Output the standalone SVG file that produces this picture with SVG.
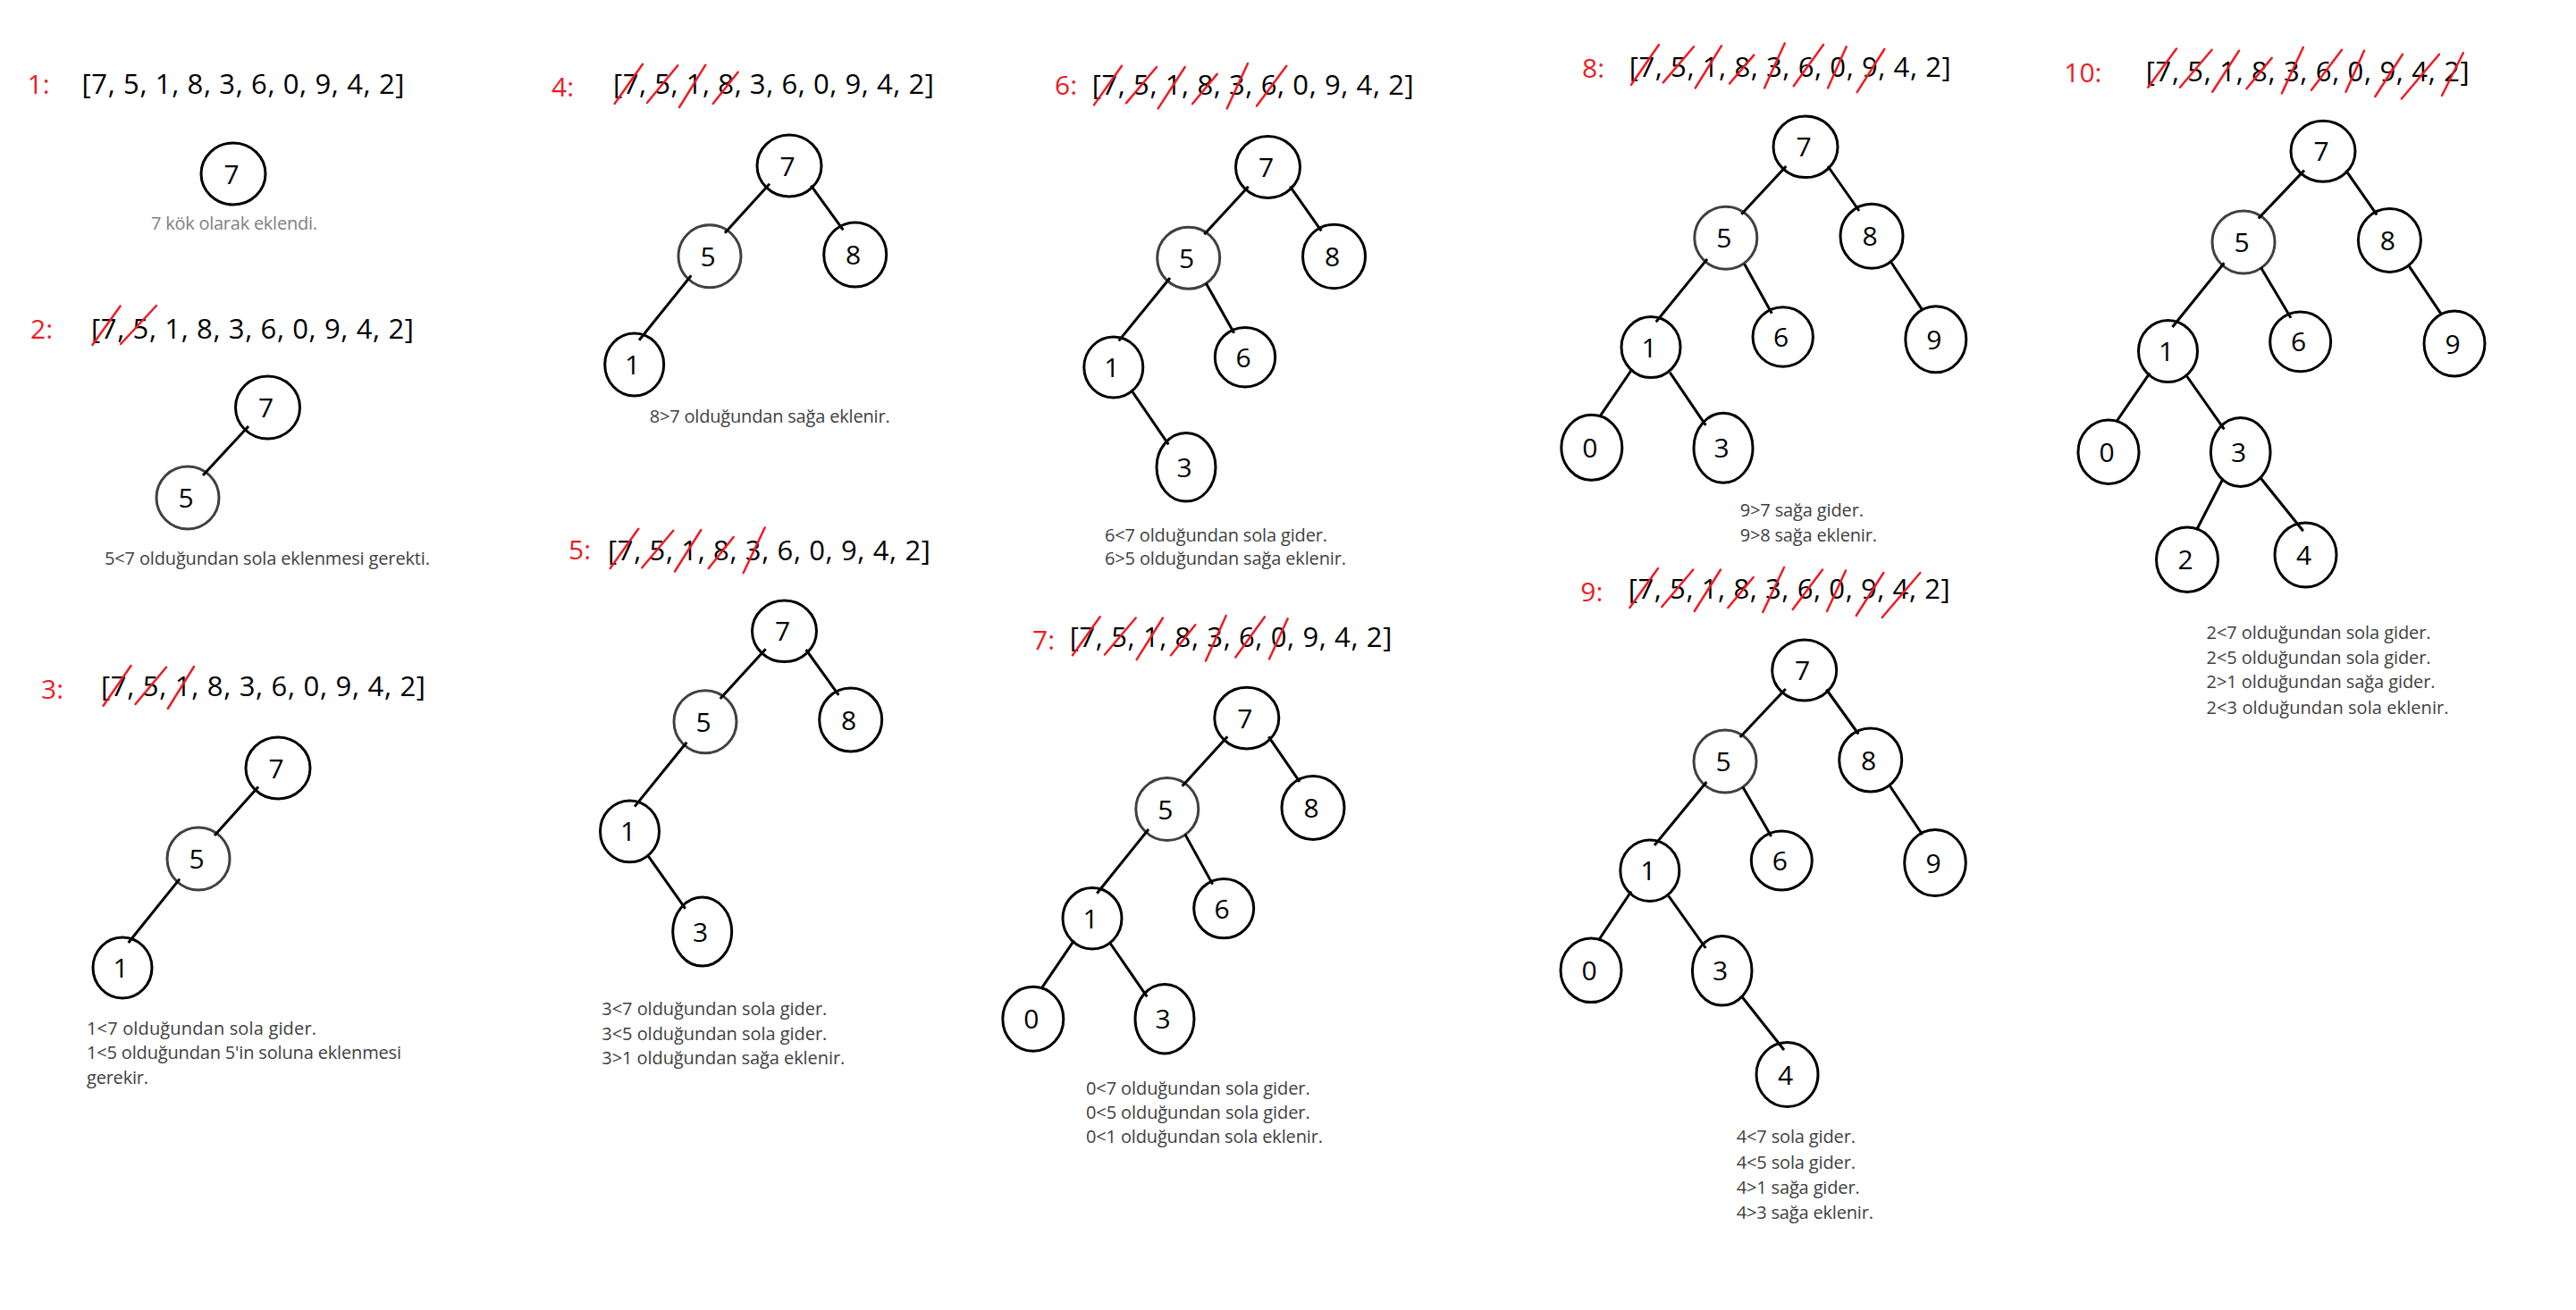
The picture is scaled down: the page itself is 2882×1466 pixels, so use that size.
<svg xmlns="http://www.w3.org/2000/svg" width="2882" height="1466" viewBox="0 0 2882 1466">
<style>
.lbl{font-family:"Open Sans",sans-serif;font-size:30px;fill:#ED1C24}
.lst{font-family:"Open Sans",sans-serif;font-size:31px;fill:#000}
.x line{stroke:#ED1C24;stroke-width:2.5;stroke-linecap:round}
.nd ellipse{fill:#fff;stroke:#000;stroke-width:3}
.nd.g ellipse{stroke:#404040}
.nd text{font-family:"Open Sans",sans-serif;font-size:30px;text-anchor:middle;fill:#000}
.cap{font-family:"Open Sans",sans-serif;font-size:20px;fill:#404040}
.cap.lt{fill:#808080}
#connectors line{stroke:#000;stroke-width:3}
</style>
<rect width="2882" height="1466" fill="#fff"/>

<!-- Step 1 -->
<g id="step1">
<text class="lbl" x="30.5" y="105">1:</text>
<text class="lst" x="91.5" y="105" textLength="361" lengthAdjust="spacing">[7, 5, 1, 8, 3, 6, 0, 9, 4, 2]</text>
<text class="cap lt" x="169" y="257" textLength="186" lengthAdjust="spacing">7 kök olarak eklendi.</text>
</g>
<g id="s1-n7" class="nd"><ellipse cx="261" cy="194.5" rx="36" ry="34.5"/><text x="259" y="205.5">7</text></g>

<!-- Step 2 -->
<g id="step2">
<text class="lbl" x="34" y="379">2:</text>
<text class="lst" x="102" y="379" textLength="361" lengthAdjust="spacing">[7, 5, 1, 8, 3, 6, 0, 9, 4, 2]</text>
<g class="x"><line x1="103.4" y1="386" x2="134.6" y2="342.5"/><line x1="135" y1="385" x2="175" y2="342"/></g>
<text class="cap" x="117" y="631.5" textLength="364" lengthAdjust="spacing">5&lt;7 olduğundan sola eklenmesi gerekti.</text>
</g>
<g id="s2-n7" class="nd"><ellipse cx="299.5" cy="456" rx="36" ry="35"/><text x="297.5" y="467">7</text></g>
<g id="s2-n5" class="nd g"><ellipse cx="210" cy="557" rx="35" ry="35"/><text x="208" y="568">5</text></g>

<!-- Step 3 -->
<g id="step3">
<text class="lbl" x="46" y="782">3:</text>
<text class="lst" x="113" y="779" textLength="363" lengthAdjust="spacing">[7, 5, 1, 8, 3, 6, 0, 9, 4, 2]</text>
<g class="x"><line x1="115.6" y1="789.8" x2="146.5" y2="745"/><line x1="151.5" y1="788" x2="186" y2="746.7"/><line x1="187.8" y1="793" x2="217" y2="746"/></g>
<text class="cap" x="97" y="1157.7" textLength="257" lengthAdjust="spacing">1&lt;7 olduğundan  sola gider.</text>
<text class="cap" x="97" y="1185" textLength="352" lengthAdjust="spacing">1&lt;5 olduğundan 5'in soluna eklenmesi</text>
<text class="cap" x="97" y="1213" textLength="69" lengthAdjust="spacing">gerekir.</text>
</g>
<g id="s3-n7" class="nd"><ellipse cx="311" cy="859.5" rx="36" ry="34.5"/><text x="309" y="870.5">7</text></g>
<g id="s3-n5" class="nd g"><ellipse cx="222" cy="961" rx="35" ry="35"/><text x="220" y="972">5</text></g>
<g id="s3-n1" class="nd"><ellipse cx="137" cy="1083" rx="33" ry="34"/><text x="135" y="1094">1</text></g>

<!-- Step 4 -->
<g id="step4">
<text class="lbl" x="617" y="107.7">4:</text>
<text class="lst" x="686" y="105" textLength="359" lengthAdjust="spacing">[7, 5, 1, 8, 3, 6, 0, 9, 4, 2]</text>
<g class="x"><line x1="687.7" y1="116" x2="719" y2="71.7"/><line x1="724" y1="115" x2="758.3" y2="73.3"/><line x1="760" y1="120" x2="789.3" y2="72.7"/><line x1="797.7" y1="116" x2="825.7" y2="80.7"/></g>
<text class="cap" x="726.7" y="473.3" textLength="269" lengthAdjust="spacing">8&gt;7 olduğundan sağa eklenir.</text>
</g>
<g id="s4-n7" class="nd"><ellipse cx="883" cy="185.5" rx="36" ry="34.5"/><text x="881" y="196.5">7</text></g>
<g id="s4-n5" class="nd g"><ellipse cx="794" cy="286.7" rx="35" ry="35"/><text x="792" y="297.7">5</text></g>
<g id="s4-n8" class="nd"><ellipse cx="956.7" cy="285" rx="35" ry="36"/><text x="954.7" y="296">8</text></g>
<g id="s4-n1" class="nd"><ellipse cx="709.7" cy="408" rx="33" ry="35"/><text x="707.7" y="419">1</text></g>

<!-- Step 5 -->
<g id="step5">
<text class="lbl" x="636" y="625.6">5:</text>
<text class="lst" x="680" y="627" textLength="361" lengthAdjust="spacing">[7, 5, 1, 8, 3, 6, 0, 9, 4, 2]</text>
<g class="x"><line x1="682.7" y1="636" x2="714.3" y2="591.7"/><line x1="718.3" y1="635.3" x2="753.3" y2="593.8"/><line x1="755" y1="639.5" x2="784.3" y2="593"/><line x1="792.7" y1="636" x2="820.7" y2="601"/><line x1="831.7" y1="641" x2="855.7" y2="590.5"/></g>
<text class="cap" x="673.3" y="1136" textLength="252" lengthAdjust="spacing">3&lt;7 olduğundan sola gider.</text>
<text class="cap" x="673.3" y="1164" textLength="252" lengthAdjust="spacing">3&lt;5 olduğundan sola gider.</text>
<text class="cap" x="673.3" y="1191" textLength="272" lengthAdjust="spacing">3&gt;1 olduğundan sağa eklenir.</text>
</g>
<g id="s5-n7" class="nd"><ellipse cx="877.5" cy="706.3" rx="36" ry="34.3"/><text x="875.5" y="717.3">7</text></g>
<g id="s5-n5" class="nd g"><ellipse cx="789" cy="807.7" rx="35" ry="35"/><text x="787" y="818.7">5</text></g>
<g id="s5-n8" class="nd"><ellipse cx="951.7" cy="805.5" rx="35" ry="35.5"/><text x="949.7" y="816.5">8</text></g>
<g id="s5-n1" class="nd"><ellipse cx="704.5" cy="930.4" rx="33" ry="34.4"/><text x="702.5" y="941.4">1</text></g>
<g id="s5-n3" class="nd"><ellipse cx="785.7" cy="1042.6" rx="33" ry="38.5"/><text x="783.7" y="1053.6">3</text></g>

<!-- Step 6 -->
<g id="step6">
<text class="lbl" x="1180" y="105.5">6:</text>
<text class="lst" x="1221.7" y="105.5" textLength="360" lengthAdjust="spacing">[7, 5, 1, 8, 3, 6, 0, 9, 4, 2]</text>
<g class="x"><line x1="1224" y1="117.4" x2="1255" y2="73.7"/><line x1="1260" y1="115.4" x2="1294" y2="75"/><line x1="1295.7" y1="121.4" x2="1325.7" y2="75"/><line x1="1334" y1="116.2" x2="1361.7" y2="82.9"/><line x1="1372.7" y1="121.4" x2="1396" y2="71"/><line x1="1406" y1="118.6" x2="1439.3" y2="73.7"/></g>
<text class="cap" x="1236" y="605.7" textLength="249" lengthAdjust="spacing">6&lt;7 olduğundan sola gider.</text>
<text class="cap" x="1236" y="632.3" textLength="270" lengthAdjust="spacing">6&gt;5 olduğundan sağa eklenir.</text>
</g>
<g id="s6-n7" class="nd"><ellipse cx="1418.5" cy="187" rx="36" ry="34.5"/><text x="1416.5" y="198">7</text></g>
<g id="s6-n5" class="nd g"><ellipse cx="1329.7" cy="288.7" rx="35" ry="34.5"/><text x="1327.7" y="299.7">5</text></g>
<g id="s6-n8" class="nd"><ellipse cx="1492.5" cy="287" rx="35" ry="35.7"/><text x="1490.5" y="298">8</text></g>
<g id="s6-n1" class="nd"><ellipse cx="1245.8" cy="411" rx="33" ry="34"/><text x="1243.8" y="422">1</text></g>
<g id="s6-n6" class="nd"><ellipse cx="1393" cy="399.7" rx="33.7" ry="33.3"/><text x="1391" y="410.7">6</text></g>
<g id="s6-n3" class="nd"><ellipse cx="1327" cy="522.8" rx="33" ry="38.3"/><text x="1325" y="533.8">3</text></g>

<!-- Step 7 -->
<g id="step7">
<text class="lbl" x="1155" y="727">7:</text>
<text class="lst" x="1196.7" y="724.3" textLength="360.6" lengthAdjust="spacing">[7, 5, 1, 8, 3, 6, 0, 9, 4, 2]</text>
<g class="x"><line x1="1200" y1="733.3" x2="1230.7" y2="690.3"/><line x1="1236" y1="732.5" x2="1270.7" y2="691.5"/><line x1="1271.7" y1="738.2" x2="1301" y2="691.5"/><line x1="1310" y1="733.3" x2="1337.3" y2="699.3"/><line x1="1349" y1="739.5" x2="1371.7" y2="689"/><line x1="1382.3" y1="735.4" x2="1415" y2="690.3"/><line x1="1420" y1="737.4" x2="1440.7" y2="692.3"/></g>
<text class="cap" x="1215" y="1224.5" textLength="250.7" lengthAdjust="spacing">0&lt;7 olduğundan sola gider.</text>
<text class="cap" x="1215" y="1252" textLength="250.7" lengthAdjust="spacing">0&lt;5 olduğundan sola gider.</text>
<text class="cap" x="1215" y="1279.4" textLength="265" lengthAdjust="spacing">0&lt;1 olduğundan sola eklenir.</text>
</g>
<g id="s7-n7" class="nd"><ellipse cx="1394.8" cy="803.6" rx="36" ry="34.3"/><text x="1392.8" y="814.6">7</text></g>
<g id="s7-n5" class="nd g"><ellipse cx="1305.8" cy="905.5" rx="35" ry="35"/><text x="1303.8" y="916.5">5</text></g>
<g id="s7-n8" class="nd"><ellipse cx="1469" cy="904" rx="35" ry="35.5"/><text x="1467" y="915">8</text></g>
<g id="s7-n1" class="nd"><ellipse cx="1222" cy="1027.8" rx="33" ry="34.2"/><text x="1220" y="1038.8">1</text></g>
<g id="s7-n6" class="nd"><ellipse cx="1369.2" cy="1016.6" rx="33.5" ry="33.2"/><text x="1367.2" y="1027.6">6</text></g>
<g id="s7-n0" class="nd"><ellipse cx="1155.8" cy="1140.2" rx="34" ry="36"/><text x="1153.8" y="1151.2">0</text></g>
<g id="s7-n3" class="nd"><ellipse cx="1303" cy="1140.2" rx="33" ry="38.7"/><text x="1301" y="1151.2">3</text></g>

<!-- Step 8 -->
<g id="step8">
<text class="lbl" x="1770" y="87">8:</text>
<text class="lst" x="1822.7" y="85.8" textLength="360" lengthAdjust="spacing">[7, 5, 1, 8, 3, 6, 0, 9, 4, 2]</text>
<g class="x"><line x1="1825" y1="94.7" x2="1856" y2="50"/><line x1="1860.7" y1="92.4" x2="1895" y2="52.3"/><line x1="1896.7" y1="98.5" x2="1926" y2="51.2"/><line x1="1935" y1="93.5" x2="1962.3" y2="61.6"/><line x1="1974" y1="98.5" x2="1996.7" y2="48.5"/><line x1="2006.7" y1="96.2" x2="2040" y2="50"/><line x1="2045" y1="98.5" x2="2065.7" y2="52.3"/><line x1="2077.7" y1="103.2" x2="2108.3" y2="55"/></g>
<text class="cap" x="1946.7" y="577.5" textLength="138.3" lengthAdjust="spacing">9&gt;7 sağa gider.</text>
<text class="cap" x="1946.7" y="605.6" textLength="153.3" lengthAdjust="spacing">9&gt;8 sağa eklenir.</text>
</g>
<g id="s8-n7" class="nd"><ellipse cx="2020" cy="164.3" rx="36" ry="34.3"/><text x="2018" y="175.3">7</text></g>
<g id="s8-n5" class="nd g"><ellipse cx="1930.8" cy="266.2" rx="35" ry="35"/><text x="1928.8" y="277.2">5</text></g>
<g id="s8-n8" class="nd"><ellipse cx="2094" cy="264.3" rx="35" ry="36"/><text x="2092" y="275.3">8</text></g>
<g id="s8-n1" class="nd"><ellipse cx="1847" cy="388.6" rx="33" ry="34"/><text x="1845" y="399.6">1</text></g>
<g id="s8-n6" class="nd"><ellipse cx="1994.7" cy="377" rx="33.7" ry="33.3"/><text x="1992.7" y="388">6</text></g>
<g id="s8-n9" class="nd"><ellipse cx="2165.8" cy="379.8" rx="34" ry="37"/><text x="2163.8" y="390.8">9</text></g>
<g id="s8-n0" class="nd"><ellipse cx="1780.8" cy="500.8" rx="34" ry="36.5"/><text x="1778.8" y="511.8">0</text></g>
<g id="s8-n3" class="nd"><ellipse cx="1928" cy="501.3" rx="33" ry="39"/><text x="1926" y="512.3">3</text></g>

<!-- Step 9 -->
<g id="step9">
<text class="lbl" x="1768.3" y="672.5">9:</text>
<text class="lst" x="1821.7" y="670" textLength="360" lengthAdjust="spacing">[7, 5, 1, 8, 3, 6, 0, 9, 4, 2]</text>
<g class="x"><line x1="1823.3" y1="680" x2="1855" y2="636"/><line x1="1859.3" y1="679" x2="1894.3" y2="637.5"/><line x1="1895.7" y1="684" x2="1925" y2="637.5"/><line x1="1933.3" y1="680" x2="1961.7" y2="646"/><line x1="1972.3" y1="685" x2="1996" y2="635"/><line x1="2005.7" y1="682" x2="2039" y2="637.5"/><line x1="2044" y1="684" x2="2065" y2="638.5"/><line x1="2076.7" y1="689" x2="2107.3" y2="641"/><line x1="2105.7" y1="691" x2="2148.3" y2="641"/></g>
<text class="cap" x="1942.7" y="1279" textLength="133.3" lengthAdjust="spacing">4&lt;7 sola gider.</text>
<text class="cap" x="1942.7" y="1307.5" textLength="133.3" lengthAdjust="spacing">4&lt;5 sola gider.</text>
<text class="cap" x="1942.7" y="1336" textLength="138" lengthAdjust="spacing">4&gt;1 sağa gider.</text>
<text class="cap" x="1942.7" y="1364" textLength="153.3" lengthAdjust="spacing">4&gt;3 sağa eklenir.</text>
</g>
<g id="s9-n7" class="nd"><ellipse cx="2018.7" cy="750" rx="36" ry="34"/><text x="2016.7" y="761">7</text></g>
<g id="s9-n5" class="nd g"><ellipse cx="1930" cy="852" rx="35" ry="35"/><text x="1928" y="863">5</text></g>
<g id="s9-n8" class="nd"><ellipse cx="2092.7" cy="850.5" rx="35" ry="35.5"/><text x="2090.7" y="861.5">8</text></g>
<g id="s9-n1" class="nd"><ellipse cx="1845.8" cy="974.3" rx="33" ry="34.3"/><text x="1843.8" y="985.3">1</text></g>
<g id="s9-n6" class="nd"><ellipse cx="1993.3" cy="963" rx="34" ry="33"/><text x="1991.3" y="974">6</text></g>
<g id="s9-n9" class="nd"><ellipse cx="2165" cy="965.5" rx="34.3" ry="37"/><text x="2163" y="976.5">9</text></g>
<g id="s9-n0" class="nd"><ellipse cx="1780" cy="1085.8" rx="34" ry="35.8"/><text x="1778" y="1096.8">0</text></g>
<g id="s9-n3" class="nd"><ellipse cx="1926.7" cy="1086.3" rx="33.3" ry="38.8"/><text x="1924.7" y="1097.3">3</text></g>
<g id="s9-n4" class="nd"><ellipse cx="1999.5" cy="1202.5" rx="34.5" ry="36"/><text x="1997.5" y="1213.5">4</text></g>

<!-- Step 10 -->
<g id="step10">
<text class="lbl" x="2309.3" y="91.6">10:</text>
<text class="lst" x="2400.7" y="90.5" textLength="362" lengthAdjust="spacing">[7, 5, 1, 8, 3, 6, 0, 9, 4, 2]</text>
<g class="x"><line x1="2403.3" y1="97.7" x2="2435" y2="54.6"/><line x1="2439" y1="97.7" x2="2474.6" y2="55.7"/><line x1="2475.3" y1="102.8" x2="2505" y2="56.7"/><line x1="2513.4" y1="99.3" x2="2541.7" y2="64.9"/><line x1="2552.9" y1="104.4" x2="2576.8" y2="53"/><line x1="2586" y1="100.8" x2="2620" y2="55.7"/><line x1="2624.5" y1="102.8" x2="2645" y2="56.7"/><line x1="2657.3" y1="108" x2="2688" y2="60.8"/><line x1="2686.8" y1="110.5" x2="2729" y2="60.8"/><line x1="2732" y1="107" x2="2755.8" y2="59.2"/></g>
<text class="cap" x="2468.6" y="714.9" textLength="251" lengthAdjust="spacing">2&lt;7 olduğundan sola gider.</text>
<text class="cap" x="2468.6" y="743" textLength="251" lengthAdjust="spacing">2&lt;5 olduğundan sola gider.</text>
<text class="cap" x="2468.6" y="770.3" textLength="256" lengthAdjust="spacing">2&gt;1 olduğundan sağa gider.</text>
<text class="cap" x="2468.6" y="798.5" textLength="271" lengthAdjust="spacing">2&lt;3 olduğundan sola  eklenir.</text>
</g>
<g id="s10-n7" class="nd"><ellipse cx="2599" cy="169.3" rx="36" ry="34"/><text x="2597" y="180.3">7</text></g>
<g id="s10-n5" class="nd g"><ellipse cx="2510" cy="271" rx="35" ry="35"/><text x="2508" y="282">5</text></g>
<g id="s10-n8" class="nd"><ellipse cx="2673.4" cy="269" rx="35" ry="35.4"/><text x="2671.4" y="280">8</text></g>
<g id="s10-n1" class="nd"><ellipse cx="2425.5" cy="393" rx="33" ry="34.6"/><text x="2423.5" y="404">1</text></g>
<g id="s10-n6" class="nd"><ellipse cx="2573.7" cy="382.4" rx="34" ry="33.4"/><text x="2571.7" y="393.4">6</text></g>
<g id="s10-n9" class="nd"><ellipse cx="2746" cy="384.5" rx="34" ry="36.5"/><text x="2744" y="395.5">9</text></g>
<g id="s10-n0" class="nd"><ellipse cx="2359" cy="505.8" rx="34" ry="35.7"/><text x="2357" y="516.8">0</text></g>
<g id="s10-n3" class="nd"><ellipse cx="2506.7" cy="506" rx="33.3" ry="38.5"/><text x="2504.7" y="517">3</text></g>
<g id="s10-n2" class="nd"><ellipse cx="2447" cy="626.3" rx="34.5" ry="36.2"/><text x="2445" y="637.3">2</text></g>
<g id="s10-n4" class="nd"><ellipse cx="2579.5" cy="621" rx="34.5" ry="36"/><text x="2577.5" y="632">4</text></g>

<g id="connectors">
<g id="c2"><line x1="278" y1="477" x2="227" y2="532"/></g>
<g id="c3"><line x1="289" y1="880.6" x2="240" y2="935"/><line x1="201" y1="983.6" x2="143.6" y2="1055"/></g>
<g id="c4"><line x1="861" y1="205.7" x2="811" y2="260.7"/><line x1="907.3" y1="207.7" x2="943.3" y2="257.3"/><line x1="773.3" y1="308.3" x2="715" y2="380.7"/></g>
<g id="c5"><line x1="856.7" y1="726.2" x2="805.7" y2="782"/><line x1="901.7" y1="727" x2="938.3" y2="777.8"/><line x1="768.3" y1="830.7" x2="710" y2="902.6"/><line x1="725" y1="957.6" x2="766.7" y2="1016.8"/></g>
<g id="c6"><line x1="1396.7" y1="208.7" x2="1347.3" y2="262.3"/><line x1="1443.3" y1="208.7" x2="1478.3" y2="258.4"/><line x1="1309" y1="311" x2="1251.7" y2="381.4"/><line x1="1349.3" y1="317" x2="1380.7" y2="372.7"/><line x1="1266" y1="437" x2="1307.3" y2="497.3"/></g>
<g id="c7"><line x1="1373.3" y1="824.3" x2="1322.7" y2="879.7"/><line x1="1419.3" y1="824.3" x2="1454" y2="874.8"/><line x1="1285" y1="928" x2="1227.3" y2="999.8"/><line x1="1325.7" y1="933.4" x2="1356.7" y2="989.6"/><line x1="1201.7" y1="1052.3" x2="1165" y2="1106.4"/><line x1="1241.7" y1="1055" x2="1283.3" y2="1115.4"/></g>
<g id="c8"><line x1="1998.3" y1="186" x2="1948.3" y2="239.8"/><line x1="2045" y1="186" x2="2080" y2="236"/><line x1="1910" y1="289.9" x2="1852.7" y2="360.3"/><line x1="1951.7" y1="295.6" x2="1982.3" y2="350.7"/><line x1="2116" y1="293.7" x2="2150.7" y2="346.9"/><line x1="1826" y1="413" x2="1790" y2="465.8"/><line x1="1868.3" y1="416.9" x2="1908.3" y2="475.8"/></g>
<g id="c9"><line x1="1997.7" y1="771" x2="1946.7" y2="825"/><line x1="2043.3" y1="771.5" x2="2079.3" y2="821.5"/><line x1="1909.3" y1="875" x2="1851" y2="946"/><line x1="1950" y1="881" x2="1981.7" y2="936"/><line x1="2114" y1="879" x2="2150.7" y2="934"/><line x1="1825" y1="997.5" x2="1789.3" y2="1051"/><line x1="1866.7" y1="1002.5" x2="1908.3" y2="1061"/><line x1="1949.3" y1="1116" x2="1996" y2="1175"/></g>
<g id="c10"><line x1="2578" y1="190.6" x2="2526.8" y2="244.4"/><line x1="2624.5" y1="190.6" x2="2659.2" y2="240.3"/><line x1="2488.4" y1="294.2" x2="2430.5" y2="366"/><line x1="2529.4" y1="299.3" x2="2563" y2="355.8"/><line x1="2694.6" y1="296.8" x2="2731.6" y2="352.2"/><line x1="2405.2" y1="417.3" x2="2368.3" y2="471.2"/><line x1="2446.6" y1="421" x2="2488.4" y2="480.4"/><line x1="2486.5" y1="536.8" x2="2457.4" y2="593.3"/><line x1="2529.4" y1="535.3" x2="2576.8" y2="594.3"/></g>
</g>
</svg>
